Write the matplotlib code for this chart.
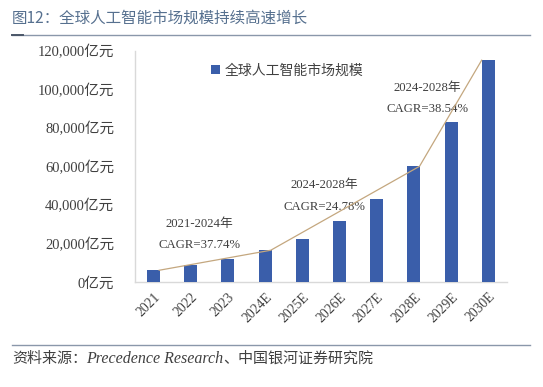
import numpy as np
import matplotlib
matplotlib.use('Agg')
import matplotlib.pyplot as plt
from matplotlib.lines import Line2D
from matplotlib.ticker import FuncFormatter

plt.rcParams['font.family'] = ['Noto Sans CJK SC', 'DejaVu Sans']
SERIF = ['Liberation Serif', 'Noto Sans CJK SC']

# ---- data ----
years = ['2021', '2022', '2023', '2024E', '2025E', '2026E', '2027E', '2028E', '2029E', '2030E']
market = [6100, 8700, 11800, 16500, 22500, 31500, 43300, 60100, 83100, 115200]
yticks = [0, 20000, 40000, 60000, 80000, 100000, 120000]
trend_idx = [0, 3, 7, 9]            # bars joined by the trend line
cagr_labels = [('2021-2024年', 'CAGR=37.74%'),
               ('2024-2028年', 'CAGR=24.78%'),
               ('2024-2028年', 'CAGR=38.54%')]

C_BAR = '#3A5EAA'
C_LINE = '#C4A77F'
C_TXT = '#404040'
C_TITLE = '#56708F'

fig = plt.figure(figsize=(5.43, 3.87), dpi=100)
ax = fig.add_axes([0.2486, 0.2713, 0.685, 0.597])

x = np.arange(len(years))
ax.bar(x, market, width=0.35, color=C_BAR, zorder=3, label='全球人工智能市场规模')

# trend line through selected bar tops
offs = [0.15, 0.15, 0.15, -0.18]
lx = [trend_idx[i] + offs[i] for i in range(len(trend_idx))]
ly = [market[i] for i in trend_idx]
ax.plot(lx, ly, color=C_LINE, lw=0.9, zorder=4)

ax.set_xlim(-0.5, len(years) - 0.5)
ax.set_ylim(0, 120000)
ax.set_yticks(yticks)
ax.yaxis.set_major_formatter(FuncFormatter(lambda v, p: f'{int(v):,}亿元'))
ax.set_xticks(x)
ax.set_xticklabels(years, rotation=45, ha='right', rotation_mode='anchor')
ax.tick_params(length=0)
ax.tick_params(axis='y', pad=15)
ax.tick_params(axis='x', pad=6)
for lab in ax.get_yticklabels() + ax.get_xticklabels():
    lab.set_family(SERIF)
    lab.set_color(C_TXT)
for lab in ax.get_yticklabels():
    lab.set_fontsize(10.5)
for lab in ax.get_xticklabels():
    lab.set_fontsize(9.8)
for s in ['top', 'right']:
    ax.spines[s].set_visible(False)
for s in ['left', 'bottom']:
    ax.spines[s].set_color('#D9D9D9')
    ax.spines[s].set_linewidth(1)

# CAGR annotations
pos = [(1.23, 30000, 19000), (4.6, 50400, 38900), (7.36, 101000, 90000)]
for (t1, t2), (px, y1, y2) in zip(cagr_labels, pos):
    ax.text(px, y1, t1, ha='center', va='center', fontsize=9.2, color=C_TXT, family=SERIF)
    ax.text(px, y2, t2, ha='center', va='center', fontsize=9.2, color=C_TXT, family=SERIF)

leg = ax.legend(loc='upper left', bbox_to_anchor=(0.17, 1.0), frameon=False,
                fontsize=10, handlelength=0.7, handleheight=0.7, handletextpad=0.3)
for t in leg.get_texts():
    t.set_color(C_TXT)

# title, rules, source
fig.text(0.022, 0.953, '图12：全球人工智能市场规模持续高速增长', fontsize=11.2,
         color=C_TITLE, va='center', ha='left')
fig.add_artist(Line2D([0.022, 0.976], [0.909, 0.909], color='#8A97AA', lw=1.0))
fig.add_artist(Line2D([0.022, 0.042], [0.909, 0.909], color='#4A5668', lw=1.4))
fig.add_artist(Line2D([0.022, 0.976], [0.108, 0.108], color='#8A97AA', lw=1.0))
s1 = fig.text(0.022, 0.062, '资料来源：', fontsize=10.8, color=C_TXT, va='baseline', ha='left')
s2 = fig.text(0, 0, 'Precedence Research', fontsize=11.5, color=C_TXT, family=SERIF,
              style='italic', va='baseline', ha='left')
s3 = fig.text(0, 0, '、中国银河证券研究院', fontsize=10.8, color=C_TXT, va='baseline', ha='left')
fig.canvas.draw()
r = fig.canvas.get_renderer()
inv = fig.transFigure.inverted()
e1 = inv.transform(s1.get_window_extent(r))
s2.set_position((e1[1][0] - 0.002, 0.062))
e2 = inv.transform(s2.get_window_extent(r))
s3.set_position((e2[1][0], 0.062))

fig.savefig('out.png', dpi=100)
